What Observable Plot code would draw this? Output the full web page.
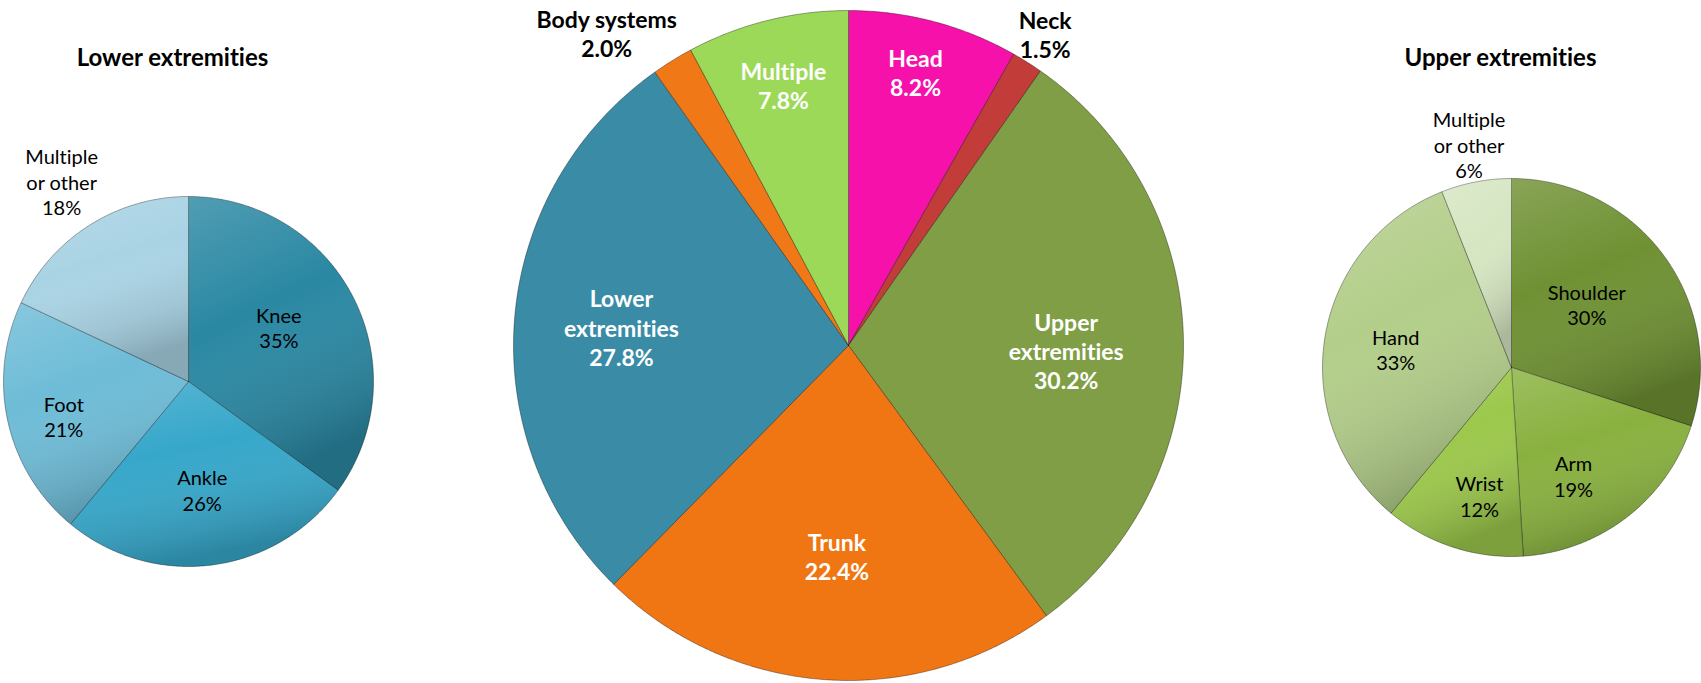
<!DOCTYPE html>
<html>
<head>
<meta charset="utf-8">
<script src="https://cdn.jsdelivr.net/npm/d3@7"></script>
<script src="https://cdn.jsdelivr.net/npm/@observablehq/plot@0.6"></script>
<style>
  html, body { margin: 0; padding: 0; background: #fff; }
  #chart { width: 1701px; height: 683px; overflow: hidden; }
  #chart svg text { font-variant-ligatures: none; font-feature-settings: "liga" 0; }
</style>
</head>
<body>
<div id="chart"></div>
<script>
// ---------- DATA ----------
const lowerCategories = ["Knee", "Ankle", "Foot", "Multiple\nor other"];
const lowerValues = [35, 26, 21, 18];

const mainCategories = ["Head", "Neck", "Upper\nextremities", "Trunk", "Lower\nextremities", "Body systems", "Multiple"];
const mainValues = [8.2, 1.5, 30.2, 22.4, 27.8, 2.0, 7.8];

const upperCategories = ["Shoulder", "Arm", "Wrist", "Hand", "Multiple\nor other"];
const upperValues = [30, 19, 12, 33, 6];

const pieTitles = ["Lower extremities", "Upper extremities"];

// ---------- STYLES ----------
const lowerColors = ["#2A88A3", "#36A7CA", "#6EBCD7", "#A9D3E4"];
const mainColors = ["#F511AA", "#C23C3A", "#809E45", "#F07613", "#3A8CA6", "#F07816", "#9DD958"];
const upperColors = ["#6F9133", "#89B13F", "#9CC84B", "#B3CE8A", "#D6E6C2"];

const W = 1701, H = 683;

// ---------- LAYOUT ----------
const pies = [
  {
    id: "lower", cats: lowerCategories, values: lowerValues, colors: lowerColors,
    cx: 188, cy: 381, r: 185, shade: true,
    labelR: [0.57, 0.59, 0.70, 1.28], labelShift: [-4, 0, -3, 0],
    fmt: v => v + "%", labelColor: () => "#000", group: "small"
  },
  {
    id: "main", cats: mainCategories, values: mainValues, colors: mainColors,
    cx: 848, cy: 345, r: 335, shade: false,
    labelR: [0.84, 1.10, 0.65, 0.63, 0.68, 1.18, 0.8], labelShift: [-1, 0, 2, -1, 0, -6, 0],
    fmt: v => v.toFixed(1) + "%", labelColor: i => (i === 1 || i === 5) ? "#000" : "#fff", group: "main"
  },
  {
    id: "upper", cats: upperCategories, values: upperValues, colors: upperColors,
    cx: 1511, cy: 367, r: 189, shade: true,
    labelR: [0.52, 0.66, 0.70, 0.62, 1.2], labelShift: [-4, 8, -4, 0, 0],
    fmt: v => v + "%", labelColor: () => "#000", group: "small"
  }
];

const points = [];
const labels = [];
for (const p of pies) {
  const arcs = d3.pie().sort(null).value(d => d)(p.values);
  arcs.forEach((a, i) => {
    const key = p.id + "-" + i;
    const color = p.colors[i];
    points.push({ key, color, shade: p.shade, x: p.cx, y: p.cy });
    const n = Math.max(2, Math.ceil((a.endAngle - a.startAngle) / 0.008));
    for (let k = 0; k <= n; k++) {
      const t = a.startAngle + (a.endAngle - a.startAngle) * k / n;
      points.push({ key, color, shade: p.shade, x: p.cx + p.r * Math.sin(t), y: p.cy - p.r * Math.cos(t) });
    }
    points.push({ key, color, shade: p.shade, x: p.cx, y: p.cy });
    const mid = (a.startAngle + a.endAngle) / 2 + p.labelShift[i] * Math.PI / 180;
    const rr = p.r * p.labelR[i];
    labels.push({
      group: p.group,
      text: p.cats[i] + "\n" + p.fmt(p.values[i]),
      color: p.labelColor(i),
      x: p.cx + rr * Math.sin(mid),
      y: p.cy - rr * Math.cos(mid)
    });
  });
}

const titleData = [
  { text: pieTitles[0], x: pies[0].cx - 16, y: 58 },
  { text: pieTitles[1], x: pies[2].cx - 11, y: 58 }
];

const svg = Plot.plot({
  width: W, height: H,
  marginTop: 0, marginRight: 0, marginBottom: 0, marginLeft: 0,
  x: { domain: [0, W], range: [0, W], axis: null },
  y: { domain: [0, H], range: [0, H], axis: null },
  color: { type: "identity" },
  style: { fontFamily: "Lato, 'Open Sans', sans-serif", background: "#fff", overflow: "visible" },
  marks: [
    Plot.line(points, { x: "x", y: "y", z: "key", fill: "#000", fillOpacity: 0.22, stroke: "none", dy: 4, ariaLabel: "pie-shadow" }),
    Plot.line(points, { x: "x", y: "y", z: "key", fill: "color", stroke: "rgba(0,0,0,0.35)", strokeWidth: 1, strokeLinejoin: "round", curve: "linear" }),
    Plot.line(points.filter(d => d.shade), { x: "x", y: "y", z: "key", fill: "url(#shade)", stroke: "none" }),
    Plot.line(points, { x: "x", y: "y", z: "key", fill: "none", stroke: "rgba(255,255,255,0.35)", strokeWidth: 1.2, dx: 1, dy: 1, ariaLabel: "bevel" }),
    Plot.text(labels.filter(d => d.group === "small"), {
      x: "x", y: "y", text: "text", fill: "color", fontSize: 20, lineHeight: 1.27,
      textAnchor: "middle", lineAnchor: "middle"
    }),
    Plot.text(labels.filter(d => d.group === "main"), {
      x: "x", y: "y", text: "text", fill: "color", fontSize: 23, fontWeight: "bold", lineHeight: 1.27,
      textAnchor: "middle", lineAnchor: "middle"
    }),
    Plot.text(titleData, {
      x: "x", y: "y", text: "text", fill: "#000", fontSize: 24, fontWeight: "bold",
      textAnchor: "middle", lineAnchor: "middle"
    })
  ]
});

svg.insertAdjacentHTML("afterbegin", `
<defs>
  <linearGradient id="shade" x1="0" y1="0" x2="0.3" y2="1">
    <stop offset="0" stop-color="#fff" stop-opacity="0.18"/>
    <stop offset="0.45" stop-color="#fff" stop-opacity="0"/>
    <stop offset="1" stop-color="#000" stop-opacity="0.2"/>
  </linearGradient>
  <filter id="blur" x="-10%" y="-10%" width="120%" height="120%">
    <feGaussianBlur stdDeviation="3"/>
  </filter>
</defs>`);
const sh = svg.querySelector('g[aria-label="pie-shadow"]');
if (sh) sh.setAttribute("filter", "url(#blur)");

document.getElementById("chart").appendChild(svg);
</script>
</body>
</html>
